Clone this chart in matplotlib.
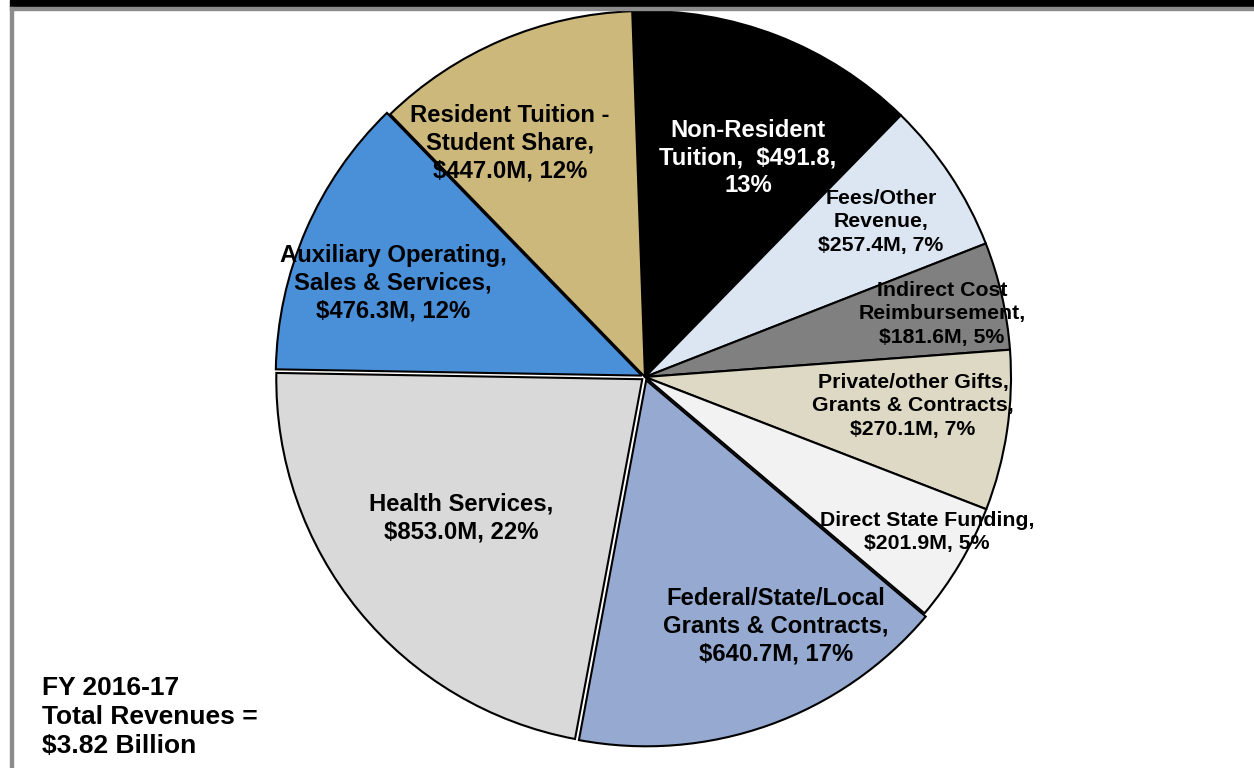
import matplotlib
matplotlib.use("Agg")
import matplotlib.pyplot as plt
from matplotlib.patches import Rectangle

plt.rcParams['font.family'] = ['Liberation Sans', 'DejaVu Sans']

# revenue sources, clockwise from the top
sources = ["Non-Resident Tuition", "Fees/Other Revenue", "Indirect Cost Reimbursement",
           "Private/other Gifts, Grants & Contracts", "Direct State Funding",
           "Federal/State/Local Grants & Contracts", "Health Services",
           "Auxiliary Operating, Sales & Services", "Resident Tuition - Student Share"]
amounts = [491.8, 257.4, 181.6, 270.1, 201.9, 640.7, 853.0, 476.3, 447.0]  # $M
labels = ["Non-Resident\nTuition,  $491.8,\n13%",
          "Fees/Other\nRevenue,\n$257.4M, 7%",
          "Indirect Cost\nReimbursement,\n$181.6M, 5%",
          "Private/other Gifts,\nGrants & Contracts,\n$270.1M, 7%",
          "Direct State Funding,\n$201.9M, 5%",
          "Federal/State/Local\nGrants & Contracts,\n$640.7M, 17%",
          "Health Services,\n$853.0M, 22%",
          "Auxiliary Operating,\nSales & Services,\n$476.3M, 12%",
          "Resident Tuition -\nStudent Share,\n$447.0M, 12%"]
colors = ["#000000", "#DCE6F2", "#808080", "#DDD9C4", "#F2F2F2",
          "#95A9D1", "#D9D9D9", "#4A90D9", "#CDB87C"]
# pulled-out slices (offset in pixels)
explode = [0, 0, 0, 0, 0, 3.5, 3.5, 3.5, 0]

# label placement (pixels from top-left) and sizes
label_pos = [(748, 158), (881, 222), (942, 314), (913, 406), (927, 532),
             (776, 626), (461, 518), (393, 283), (510, 143)]
label_size = [17.2, 15.3, 15.3, 15.3, 15.3, 17.2, 17.2, 17.2, 17.2]
label_spacing = [1.27, 1.3, 1.3, 1.3, 1.3, 1.27, 1.27, 1.27, 1.27]
label_color = ["white"] + ["black"] * 8

W, H = 1254, 768
fig = plt.figure(figsize=(W / 100, H / 100), dpi=100)
ax = fig.add_axes([0, 0, 1, 1])

cx, cy, r = 645, H - 377, 366
ax.pie(amounts, colors=colors, explode=explode, startangle=92, counterclock=False,
       center=(cx, cy), radius=r, frame=True,
       wedgeprops=dict(edgecolor="black", linewidth=1.5))
ax.set_xlim(0, W)
ax.set_ylim(0, H)
ax.set_aspect("auto")
ax.axis("off")

for txt, (px, py), fs, ls, c in zip(labels, label_pos, label_size, label_spacing, label_color):
    ax.text(px, H - py, txt, ha="center", va="center", fontsize=fs,
            fontweight="bold", color=c, linespacing=ls)

ax.text(42, H - 717, "FY 2016-17\nTotal Revenues =\n$3.82 Billion", ha="left", va="center",
        fontsize=19, fontweight="bold", linespacing=1.25)

# frame: black band on top, grey rules
fig.patches.append(Rectangle((10 / W, 1 - 7 / H), 1, 7 / H, transform=fig.transFigure,
                             color="black", zorder=5))
fig.patches.append(Rectangle((10 / W, 1 - 10 / H), 1, 3 / H, transform=fig.transFigure,
                             color="#8C8C8C", zorder=5))
fig.patches.append(Rectangle((10 / W, 0), 2.5 / W, 1 - 7 / H, transform=fig.transFigure,
                             color="#8C8C8C", zorder=5))

fig.savefig("out.png", dpi=100, facecolor="white")
